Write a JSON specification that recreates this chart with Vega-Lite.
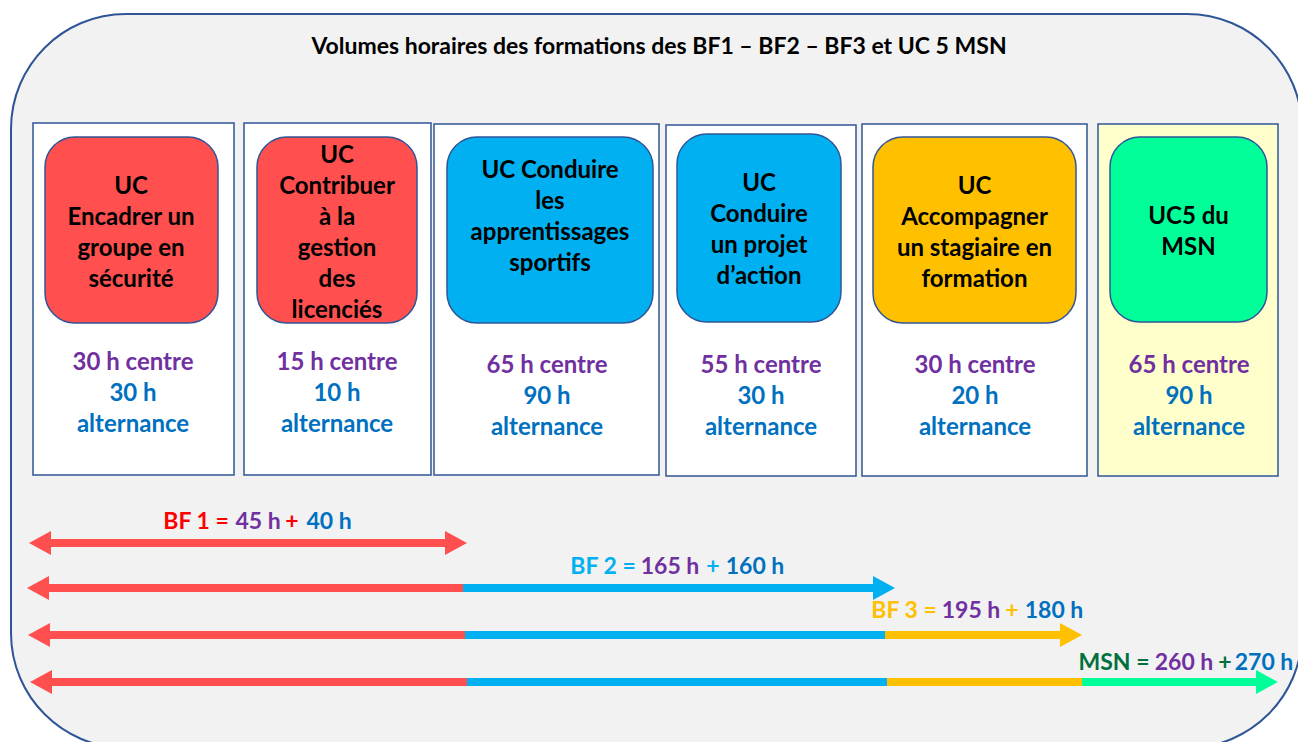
{
  "$schema": "https://vega.github.io/schema/vega-lite/v6.json",
  "width": 1298,
  "height": 742,
  "autosize": {"type": "fit", "contains": "padding"},
  "padding": 0,
  "background": "white",
  "config": {"view": {"stroke": null}, "text": {"font": "Lato", "fontWeight": "bold"}},
  "datasets": {
    "frame": [{"name": "cadre", "x0": 11, "x1": 1302, "y0": 14, "y1": 748}],
    "title": [{"text": "Volumes horaires des formations des BF1 – BF2 – BF3 et UC 5 MSN", "x": 659, "y": 46}],
    "columns": [
      {"col": 1, "grp": "BF1", "cx0": 33, "cx1": 234, "cy0": 123, "cy1": 475, "bx0": 45, "bx1": 218, "by0": 137, "by1": 323, "tx": 131, "ty": 185, "uc": "UC\nEncadrer un\ngroupe en\nsécurité", "centre": "30 h centre", "alt": "30 h\nalternance", "hx": 133, "hy": 361},
      {"col": 2, "grp": "BF1", "cx0": 244, "cx1": 431, "cy0": 123, "cy1": 475, "bx0": 257, "bx1": 417, "by0": 137, "by1": 323, "tx": 337, "ty": 154, "uc": "UC\nContribuer\nà la\ngestion\ndes\nlicenciés", "centre": "15 h centre", "alt": "10 h\nalternance", "hx": 337, "hy": 361},
      {"col": 3, "grp": "BF2", "cx0": 434, "cx1": 659, "cy0": 124, "cy1": 475, "bx0": 447, "bx1": 653, "by0": 137, "by1": 323, "tx": 550, "ty": 169, "uc": "UC Conduire\nles\napprentissages\nsportifs", "centre": "65 h centre", "alt": "90 h\nalternance", "hx": 547, "hy": 364},
      {"col": 4, "grp": "BF2", "cx0": 666, "cx1": 856, "cy0": 125, "cy1": 476, "bx0": 677, "bx1": 841, "by0": 134, "by1": 322, "tx": 759, "ty": 182, "uc": "UC\nConduire\nun projet\nd’action", "centre": "55 h centre", "alt": "30 h\nalternance", "hx": 761, "hy": 364},
      {"col": 5, "grp": "BF3", "cx0": 862, "cx1": 1087, "cy0": 124, "cy1": 476, "bx0": 873, "bx1": 1076, "by0": 137, "by1": 323, "tx": 974.5, "ty": 185, "uc": "UC\nAccompagner\nun stagiaire en\nformation", "centre": "30 h centre", "alt": "20 h\nalternance", "hx": 975, "hy": 364},
      {"col": 6, "grp": "MSN", "cx0": 1098, "cx1": 1278, "cy0": 124, "cy1": 476, "bx0": 1110, "bx1": 1267, "by0": 137, "by1": 322, "tx": 1188.5, "ty": 215, "uc": "UC5 du\nMSN", "centre": "65 h centre", "alt": "90 h\nalternance", "hx": 1189, "hy": 364}
    ],
    "segments": [
      {"row": 1, "grp": "BF1", "x0": 39, "x1": 457, "y": 543},
      {"row": 2, "grp": "BF1", "x0": 37, "x1": 463, "y": 588},
      {"row": 2, "grp": "BF2", "x0": 463, "x1": 885, "y": 588},
      {"row": 3, "grp": "BF1", "x0": 38, "x1": 465, "y": 635},
      {"row": 3, "grp": "BF2", "x0": 465, "x1": 885, "y": 635},
      {"row": 3, "grp": "BF3", "x0": 885, "x1": 1072, "y": 635},
      {"row": 4, "grp": "BF1", "x0": 40, "x1": 467, "y": 682},
      {"row": 4, "grp": "BF2", "x0": 467, "x1": 887, "y": 682},
      {"row": 4, "grp": "BF3", "x0": 887, "x1": 1082, "y": 682},
      {"row": 4, "grp": "MSN", "x0": 1082, "x1": 1268, "y": 682}
    ],
    "heads": [
      {"row": 1, "grp": "BF1", "dir": "left", "x": 29, "y": 543},
      {"row": 1, "grp": "BF1", "dir": "right", "x": 467, "y": 543},
      {"row": 2, "grp": "BF1", "dir": "left", "x": 27, "y": 588},
      {"row": 2, "grp": "BF2", "dir": "right", "x": 895, "y": 588},
      {"row": 3, "grp": "BF1", "dir": "left", "x": 28, "y": 635},
      {"row": 3, "grp": "BF3", "dir": "right", "x": 1082, "y": 635},
      {"row": 4, "grp": "BF1", "dir": "left", "x": 30, "y": 682},
      {"row": 4, "grp": "MSN", "dir": "right", "x": 1278, "y": 682}
    ],
    "labels": [
      {"row": 1, "part": "BF1", "text": "BF 1 =", "x": 196, "y": 520},
      {"row": 1, "part": "centre", "text": "45 h", "x": 258, "y": 520},
      {"row": 1, "part": "BF1", "text": "+", "x": 292, "y": 520},
      {"row": 1, "part": "alternance", "text": "40 h", "x": 329, "y": 520},
      {"row": 2, "part": "BF2", "text": "BF 2 =", "x": 603, "y": 565},
      {"row": 2, "part": "centre", "text": "165 h", "x": 670, "y": 565},
      {"row": 2, "part": "BF2", "text": "+", "x": 713, "y": 565},
      {"row": 2, "part": "alternance", "text": "160 h", "x": 755, "y": 565},
      {"row": 3, "part": "BF3", "text": "BF 3 =", "x": 904, "y": 609},
      {"row": 3, "part": "centre", "text": "195 h", "x": 971, "y": 609},
      {"row": 3, "part": "BF3", "text": "+", "x": 1012, "y": 609},
      {"row": 3, "part": "alternance", "text": "180 h", "x": 1054, "y": 609},
      {"row": 4, "part": "MSN", "text": "MSN =", "x": 1114, "y": 661},
      {"row": 4, "part": "centre", "text": "260 h", "x": 1184, "y": 661},
      {"row": 4, "part": "MSN", "text": "+", "x": 1225, "y": 661},
      {"row": 4, "part": "alternance", "text": "270 h", "x": 1264, "y": 661}
    ]
  },
  "resolve": {"scale": {"color": "independent", "fill": "independent", "shape": "independent"}},
  "layer": [
    {
      "data": {"name": "frame"},
      "mark": {"type": "rect", "cornerRadius": 115, "fill": "#f2f2f2", "stroke": "#2f5597", "strokeWidth": 2, "clip": true},
      "encoding": {
        "x": {"field": "x0", "type": "quantitative", "scale": {"domain": [0, 1298], "nice": false, "zero": false}, "axis": null},
        "x2": {"field": "x1"},
        "y": {"field": "y0", "type": "quantitative", "scale": {"domain": [0, 742], "nice": false, "zero": false, "reverse": true}, "axis": null},
        "y2": {"field": "y1"}
      }
    },
    {
      "data": {"name": "title"},
      "mark": {"type": "text", "fontSize": 23, "color": "black", "align": "center", "baseline": "middle", "dy": 1},
      "encoding": {
        "x": {"field": "x", "type": "quantitative"},
        "y": {"field": "y", "type": "quantitative"},
        "text": {"field": "text"}
      }
    },
    {
      "data": {"name": "columns"},
      "mark": {"type": "rect", "stroke": "#2f5597", "strokeWidth": 1.5},
      "encoding": {
        "x": {"field": "cx0", "type": "quantitative"},
        "x2": {"field": "cx1"},
        "y": {"field": "cy0", "type": "quantitative"},
        "y2": {"field": "cy1"},
        "fill": {"condition": {"test": "datum.grp === 'MSN'", "value": "#ffffcc"}, "value": "white"}
      }
    },
    {
      "data": {"name": "columns"},
      "mark": {"type": "rect", "stroke": "#2f5597", "strokeWidth": 1.5, "cornerRadius": 30},
      "encoding": {
        "x": {"field": "bx0", "type": "quantitative"},
        "x2": {"field": "bx1"},
        "y": {"field": "by0", "type": "quantitative"},
        "y2": {"field": "by1"},
        "fill": {"field": "grp", "type": "nominal", "scale": {"domain": ["BF1", "BF2", "BF3", "MSN"], "range": ["#ff4f4f", "#00b0f0", "#ffc000", "#00ff99"]}, "legend": null}
      }
    },
    {
      "data": {"name": "columns"},
      "mark": {"type": "text", "fontSize": 24, "color": "black", "align": "center", "baseline": "middle", "lineBreak": "\n", "lineHeight": 31, "dy": 2},
      "encoding": {
        "x": {"field": "tx", "type": "quantitative"},
        "y": {"field": "ty", "type": "quantitative"},
        "text": {"field": "uc"}
      }
    },
    {
      "data": {"name": "columns"},
      "mark": {"type": "text", "fontSize": 24, "color": "#7030a0", "align": "center", "baseline": "middle", "dy": 2},
      "encoding": {
        "x": {"field": "hx", "type": "quantitative"},
        "y": {"field": "hy", "type": "quantitative"},
        "text": {"field": "centre"}
      }
    },
    {
      "data": {"name": "columns"},
      "mark": {"type": "text", "fontSize": 24, "color": "#0070c0", "align": "center", "baseline": "middle", "lineBreak": "\n", "lineHeight": 31, "dy": 33},
      "encoding": {
        "x": {"field": "hx", "type": "quantitative"},
        "y": {"field": "hy", "type": "quantitative"},
        "text": {"field": "alt"}
      }
    },
    {
      "data": {"name": "segments"},
      "mark": {"type": "rule", "strokeWidth": 8, "strokeCap": "butt"},
      "encoding": {
        "x": {"field": "x0", "type": "quantitative"},
        "x2": {"field": "x1"},
        "y": {"field": "y", "type": "quantitative"},
        "color": {"field": "grp", "type": "nominal", "scale": {"domain": ["BF1", "BF2", "BF3", "MSN"], "range": ["#ff4f4f", "#00b0f0", "#ffc000", "#00ff99"]}, "legend": null}
      }
    },
    {
      "data": {"name": "heads"},
      "mark": {"type": "point", "filled": true, "opacity": 1, "size": 576, "strokeWidth": 0},
      "encoding": {
        "x": {"field": "x", "type": "quantitative"},
        "y": {"field": "y", "type": "quantitative"},
        "shape": {"field": "dir", "type": "nominal", "scale": {"domain": ["left", "right"], "range": ["M0,0L1.833,-1L1.833,1Z", "M0,0L-1.833,-1L-1.833,1Z"]}, "legend": null},
        "color": {"field": "grp", "type": "nominal", "scale": {"domain": ["BF1", "BF2", "BF3", "MSN"], "range": ["#ff4f4f", "#00b0f0", "#ffc000", "#00ff99"]}, "legend": null}
      }
    },
    {
      "data": {"name": "labels"},
      "mark": {"type": "text", "fontSize": 23, "align": "center", "baseline": "middle", "dy": 2},
      "encoding": {
        "x": {"field": "x", "type": "quantitative"},
        "y": {"field": "y", "type": "quantitative"},
        "text": {"field": "text"},
        "color": {"field": "part", "type": "nominal", "scale": {"domain": ["BF1", "BF2", "BF3", "MSN", "centre", "alternance"], "range": ["#ff0000", "#00b0f0", "#ffc000", "#00703c", "#7030a0", "#0070c0"]}, "legend": null}
      }
    }
  ]
}
